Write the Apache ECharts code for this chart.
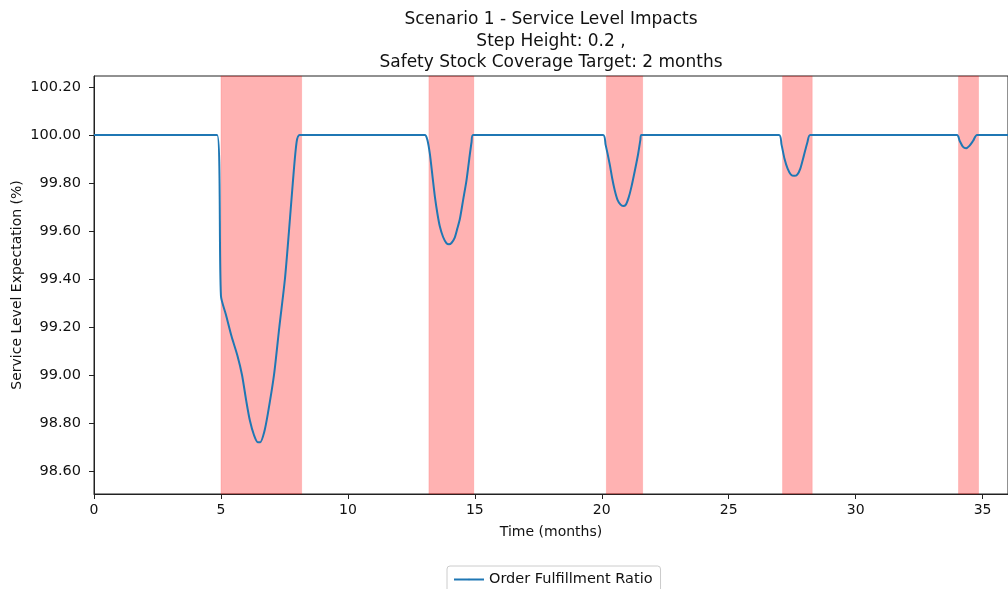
<!DOCTYPE html>
<html>
<head>
<meta charset="utf-8">
<script src="https://cdn.jsdelivr.net/npm/echarts@6/dist/echarts.min.js"></script>
<style>html,body{margin:0;padding:0;background:#fff;}#c{width:1008px;height:589px;}</style>
</head>
<body>
<div id="c"></div>
<script>
const titleText = "Scenario 1 - Service Level Impacts\nStep Height: 0.2 ,\nSafety Stock Coverage Target: 2 months";
const seriesName = "Order Fulfillment Ratio";
const xTickValues = [0, 5, 10, 15, 20, 25, 30, 35];
const yTickValues = [98.6, 98.8, 99.0, 99.2, 99.4, 99.6, 99.8, 100.0, 100.2];
const timeMonths = [
  0, 4.85, 5.0, 5.2, 5.42, 5.65, 5.83, 6.0, 6.14, 6.3, 6.45, 6.55, 6.7, 6.85, 7.09, 7.3, 7.52, 7.68, 7.83, 7.98, 8.1,
  13.03, 13.13, 13.23, 13.33, 13.43, 13.53, 13.62, 13.75, 13.88, 13.98, 14.08, 14.2, 14.31, 14.41, 14.54, 14.67, 14.78, 14.87, 14.93,
  20.05, 20.15, 20.31, 20.41, 20.51, 20.62, 20.74, 20.84, 20.95, 21.06, 21.17, 21.3, 21.43, 21.52, 21.56,
  26.98, 27.08, 27.2, 27.32, 27.45, 27.58, 27.7, 27.82, 27.95, 28.1, 28.21,
  33.99, 34.1, 34.22, 34.35, 34.48, 34.62, 34.78, 36
];
const fulfillment = [
  100, 100, 99.33, 99.25, 99.16, 99.08, 99.0, 98.89, 98.81, 98.75, 98.72, 98.72, 98.76, 98.84, 99.0, 99.2, 99.4, 99.6, 99.8, 99.97, 100,
  100, 99.98, 99.92, 99.83, 99.74, 99.67, 99.62, 99.575, 99.55, 99.545, 99.55, 99.57, 99.61, 99.65, 99.73, 99.81, 99.9, 99.97, 100,
  100, 99.96, 99.88, 99.82, 99.77, 99.73, 99.71, 99.704, 99.71, 99.74, 99.785, 99.85, 99.92, 99.98, 100,
  100, 99.96, 99.9, 99.86, 99.835, 99.83, 99.835, 99.86, 99.91, 99.97, 100,
  100, 99.975, 99.952, 99.945, 99.955, 99.975, 100, 100
];
const spanStart = [5.0, 13.19, 20.18, 27.12, 34.05];
const spanEnd = [8.18, 14.96, 21.61, 28.29, 34.84];

const font = "'DejaVu Sans', sans-serif";
const lineData = timeMonths.map((t, i) => [t, fulfillment[i]]);
const areas = spanStart.map((s, i) => [{xAxis: s}, {xAxis: spanEnd[i]}]);

const chart = echarts.init(document.getElementById('c'), null, {renderer: 'canvas'});
chart.setOption({
  animation: false,
  backgroundColor: '#fff',
  title: {
    text: titleText,
    left: 546,
    textAlign: 'center',
    top: 4,
    textStyle: {fontFamily: font, fontSize: 17, fontWeight: 'normal', color: '#111', lineHeight: 21.5}
  },
  grid: {left: 94, right: 0, top: 76, bottom: 95, outerBoundsMode: 'none', containLabel: false,
    show: true, borderColor: '#222', borderWidth: 1, backgroundColor: 'transparent'},
  legend: {
    data: [seriesName],
    left: 447,
    top: 566,
    itemWidth: 30,
    itemHeight: 2,
    itemGap: 10,
    padding: [6, 8, 6, 6],
    borderColor: '#ccc',
    borderWidth: 1,
    borderRadius: 3,
    textStyle: {fontFamily: font, fontSize: 14.5, color: '#111'}
  },
  xAxis: {
    type: 'value',
    min: 0, max: 36,
    name: 'Time (months)',
    nameLocation: 'middle',
    nameGap: 31,
    nameMoveOverlap: false,
    nameTextStyle: {fontFamily: font, fontSize: 14, color: '#111'},
    splitLine: {show: false},
    axisLine: {show: true, lineStyle: {color: '#222'}},
    axisTick: {show: true, length: 5, inside: false, customValues: xTickValues, lineStyle: {color: '#222'}},
    axisLabel: {customValues: xTickValues, fontFamily: font, fontSize: 14, color: '#111', margin: 9}
  },
  yAxis: {
    type: 'value',
    min: 98.504, max: 100.246,
    name: 'Service Level Expectation (%)',
    nameLocation: 'middle',
    nameGap: 70,
    nameMoveOverlap: false,
    nameRotate: 90,
    nameTextStyle: {fontFamily: font, fontSize: 14, color: '#111'},
    splitLine: {show: false},
    axisLine: {show: true, lineStyle: {color: '#222'}},
    axisTick: {show: true, length: 5, customValues: yTickValues, lineStyle: {color: '#222'}},
    axisLabel: {customValues: yTickValues, fontFamily: font, fontSize: 14.5, color: '#111', margin: 13,
      formatter: v => v.toFixed(2)}
  },
  series: [
    {
      type: 'line',
      name: 'spans',
      data: [],
      z: 1,
      silent: true,
      markArea: {
        silent: true,
        itemStyle: {color: 'rgba(255,0,0,0.3)', borderColor: 'rgba(255,0,0,0.12)', borderWidth: 1},
        data: areas
      }
    },
    {
      type: 'line',
      name: seriesName,
      data: lineData,
      symbol: 'none',
      smooth: 0.25,
      z: 3,
      lineStyle: {color: '#1f77b4', width: 2},
      itemStyle: {color: '#1f77b4'}
    }
  ]
});
</script>
</body>
</html>
